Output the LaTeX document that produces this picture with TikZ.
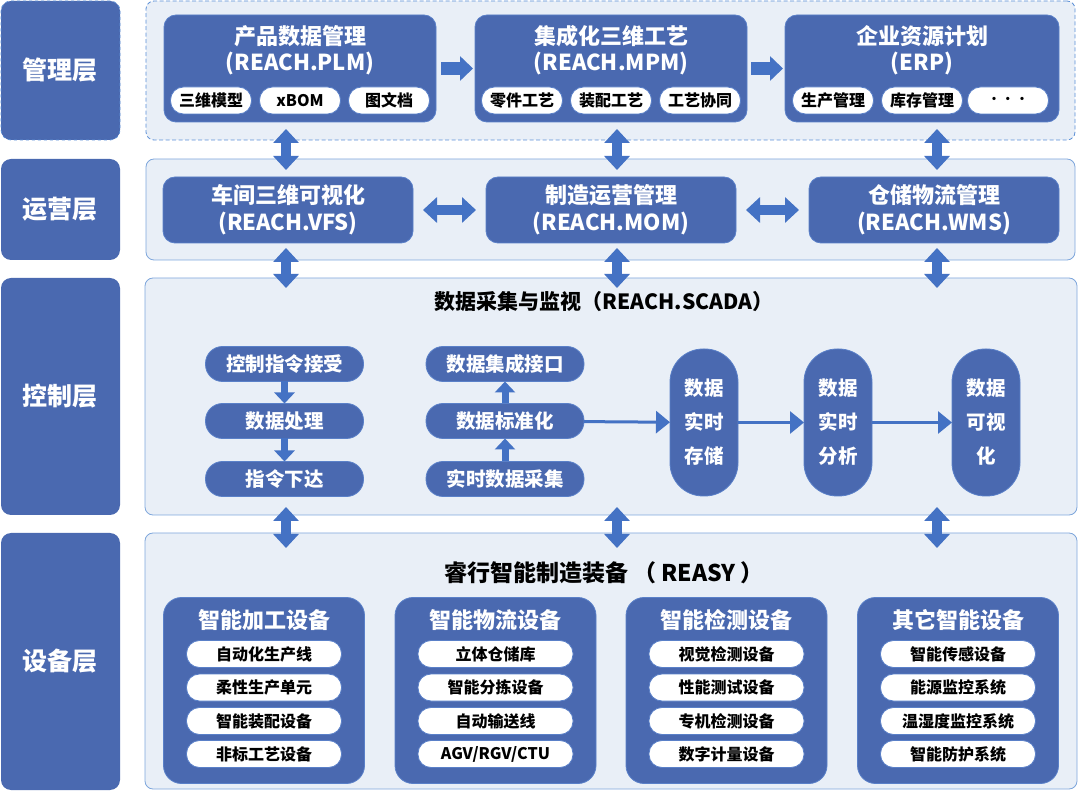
\documentclass[tikz,border=0pt]{standalone}
\usepackage{fontspec}
\setmainfont{Noto Sans CJK SC}
\usetikzlibrary{arrows.meta}

\definecolor{dkblue}{HTML}{4A69B0}
\definecolor{boxline}{HTML}{5A80C8}
\definecolor{pnlfill}{HTML}{E9EFF7}
\definecolor{pnlline}{HTML}{7EA6DC}
\definecolor{dashline}{HTML}{5B8FD6}
\definecolor{arrblue}{HTML}{4472C4}
\newcommand\fsz[2]{\fontsize{#1}{#2}\selectfont}

\begin{document}
\begin{tikzpicture}
  [x=1pt,y=-1pt,thick,
   every node/.style={inner sep=0pt,outer sep=0pt},
   layer/.style={rounded corners=10pt,fill=dkblue,text=white,minimum width=119pt,font=\bfseries\fsz{25}{25}},
   panel/.style={rounded corners=8pt,fill=pnlfill,draw=pnlline,line width=0.8pt},
   mainbox/.style={rounded corners=12pt,fill=dkblue,draw=boxline,line width=0.8pt,text=white,align=center,font=\bfseries\fsz{22}{27}},
   boxtitle/.style={text=white,align=center,font=\bfseries\fsz{22}{26}},
   pill/.style={rounded corners=13pt,fill=white,draw=boxline,line width=0.8pt,minimum width=81pt,minimum height=27pt,font=\bfseries\fsz{16}{16}},
   devpill/.style={pill,minimum width=155pt},
   ctrlpill/.style={rounded corners=17pt,fill=dkblue,draw=boxline,line width=0.8pt,text=white,minimum width=158pt,minimum height=35pt,font=\bfseries\fsz{19.5}{19.5}},
   tallpill/.style={rounded corners=33pt,fill=dkblue,draw=boxline,line width=0.8pt,text=white,align=center,minimum width=68pt,minimum height=147pt,font=\bfseries\fsz{19.5}{34}},
   groupbox/.style={rounded corners=18pt,fill=dkblue,draw=boxline,line width=0.8pt,minimum width=201pt,minimum height=186pt},
   grouptitle/.style={text=white,font=\bfseries\fsz{22}{22}},
   blockarr/.style={draw=arrblue,line width=13pt,-{Triangle[width=24pt,length=13pt]}},
   dblarr/.style={draw=arrblue,line width=10pt,{Triangle[width=25pt,length=14pt]}-{Triangle[width=25pt,length=14pt]}},
   smallarr/.style={draw=arrblue,line width=7pt,-{Triangle[width=20pt,length=11pt]}},
   thinarr/.style={draw=arrblue,line width=3pt,-{Triangle[width=22pt,length=14pt]}}]
  \useasboundingbox (0,0) rectangle (1080,791);

  % layer labels
  \node[layer,draw=dashline,dashed,minimum height=139pt] (lMgmt) at (60.5,70.5) {管理层};
  \node[layer,minimum height=101pt] (lOps) at (60.5,209.5) {运营层};
  \node[layer,minimum height=237pt] (lCtrl) at (60.5,396.5) {控制层};
  \node[layer,minimum height=257pt] (lDev) at (60.5,661.5) {设备层};

  % layer panels
  \node[panel,draw=dashline,dash pattern=on 4pt off 2.5pt,minimum width=929pt,minimum height=139pt] (pMgmt) at (610.5,70.5) {};
  \node[panel,minimum width=929pt,minimum height=101pt] (pOps) at (610.5,209.5) {};
  \node[panel,minimum width=932pt,minimum height=237pt] (pCtrl) at (611,396.5) {};
  \node[panel,minimum width=932pt,minimum height=256pt] (pDev) at (611,661) {};

  % management layer
  \node[mainbox,minimum width=272pt,minimum height=107pt] (plm) at (300,68.5) {};
  \node[boxtitle] (plmT) at (300,50) {产品数据管理\\(REACH.PLM)};
  \node[pill] (plm1) at (211,100.5) {三维模型};
  \node[pill] (plm2) at (300,100.5) {xBOM};
  \node[pill] (plm3) at (389,100.5) {图文档};

  \node[mainbox,minimum width=272pt,minimum height=107pt] (mpm) at (611,68.5) {};
  \node[boxtitle] (mpmT) at (611,50) {集成化三维工艺\\(REACH.MPM)};
  \node[pill] (mpm1) at (522,100.5) {零件工艺};
  \node[pill] (mpm2) at (611,100.5) {装配工艺};
  \node[pill] (mpm3) at (700,100.5) {工艺协同};

  \node[mainbox,minimum width=274pt,minimum height=107pt] (erp) at (922,68.5) {};
  \node[boxtitle] (erpT) at (922,50) {企业资源计划\\(ERP)};
  \node[pill] (erp1) at (833,100.5) {生产管理};
  \node[pill] (erp2) at (922,100.5) {库存管理};
  \node[pill,font=\bfseries\fsz{12}{12}] (erp3) at (1008,100.5) {•\,•\,•};

  \draw[blockarr,shorten <=5pt,shorten >=2pt] (plm) -- (mpm);
  \draw[blockarr,shorten <=4pt,shorten >=2pt] (mpm) -- (erp);

  % operation layer
  \node[mainbox,minimum width=250pt,minimum height=66pt] (vfs) at (288,210) {车间三维可视化\\(REACH.VFS)};
  \node[mainbox,minimum width=250pt,minimum height=66pt] (mom) at (611,210) {制造运营管理\\(REACH.MOM)};
  \node[mainbox,minimum width=250pt,minimum height=66pt] (wms) at (934,210) {仓储物流管理\\(REACH.WMS)};

  \draw[dblarr,shorten <=10pt,shorten >=10pt] (vfs) -- (mom);
  \draw[dblarr,shorten <=10pt,shorten >=10pt] (mom) -- (wms);

  % control layer
  \node[font=\bfseries\fsz{21}{21}] (scada) at (604,302) {数据采集与监视（REACH.SCADA）};
  \node[ctrlpill] (cmd1) at (284.5,364) {控制指令接受};
  \node[ctrlpill] (cmd2) at (284.5,421) {数据处理};
  \node[ctrlpill] (cmd3) at (284.5,479) {指令下达};
  \node[ctrlpill] (dat1) at (505,364) {数据集成接口};
  \node[ctrlpill] (dat2) at (505,421) {数据标准化};
  \node[ctrlpill] (dat3) at (505,479) {实时数据采集};
  \node[tallpill] (store) at (704,422.5) {数据\\实时\\存储};
  \node[tallpill] (anal) at (838,422.5) {数据\\实时\\分析};
  \node[tallpill] (visu) at (986,422.5) {数据\\可视\\化};

  \draw[smallarr] (cmd1) -- (cmd2);
  \draw[smallarr] (cmd2) -- (cmd3);
  \draw[smallarr] (dat3) -- (dat2);
  \draw[smallarr] (dat2) -- (dat1);
  \draw[thinarr] (dat2) -- (store);
  \draw[thinarr] (store) -- (anal);
  \draw[thinarr] (anal) -- (visu);

  % device layer
  \node[font=\bfseries\fsz{23}{23}] (reasy) at (604,573) {睿行智能制造装备 （ REASY ）};

  \node[groupbox] (g1) at (264,690.5) {};
  \node[grouptitle] (g1T) at (264,620) {智能加工设备};
  \node[devpill] (g11) at (264,654) {自动化生产线};
  \node[devpill] (g12) at (264,687.5) {柔性生产单元};
  \node[devpill] (g13) at (264,721) {智能装配设备};
  \node[devpill] (g14) at (264,754) {非标工艺设备};

  \node[groupbox] (g2) at (495.5,690.5) {};
  \node[grouptitle] (g2T) at (495.5,620) {智能物流设备};
  \node[devpill] (g21) at (495.5,654) {立体仓储库};
  \node[devpill] (g22) at (495.5,687.5) {智能分拣设备};
  \node[devpill] (g23) at (495.5,721) {自动输送线};
  \node[devpill] (g24) at (495.5,754) {AGV/RGV/CTU};

  \node[groupbox] (g3) at (726.5,690.5) {};
  \node[grouptitle] (g3T) at (726.5,620) {智能检测设备};
  \node[devpill] (g31) at (726.5,654) {视觉检测设备};
  \node[devpill] (g32) at (726.5,687.5) {性能测试设备};
  \node[devpill] (g33) at (726.5,721) {专机检测设备};
  \node[devpill] (g34) at (726.5,754) {数字计量设备};

  \node[groupbox] (g4) at (958,690.5) {};
  \node[grouptitle] (g4T) at (958,620) {其它智能设备};
  \node[devpill] (g41) at (958,654) {智能传感设备};
  \node[devpill] (g42) at (958,687.5) {能源监控系统};
  \node[devpill] (g43) at (958,721) {温湿度监控系统};
  \node[devpill] (g44) at (958,754) {智能防护系统};

  % arrows between layers
  \coordinate (ax1) at (286,0);
  \coordinate (ax2) at (617,0);
  \coordinate (ax3) at (937,0);
  \draw[dblarr,shorten <=-11pt,shorten >=-11pt] (pMgmt.south -| ax1) -- (pOps.north -| ax1);
  \draw[dblarr,shorten <=-11pt,shorten >=-11pt] (pMgmt.south -| ax2) -- (pOps.north -| ax2);
  \draw[dblarr,shorten <=-11pt,shorten >=-11pt] (pMgmt.south -| ax3) -- (pOps.north -| ax3);
  \draw[dblarr,shorten <=-12pt,shorten >=-10pt] (pOps.south -| ax1) -- (pCtrl.north -| ax1);
  \draw[dblarr,shorten <=-12pt,shorten >=-10pt] (pOps.south -| ax2) -- (pCtrl.north -| ax2);
  \draw[dblarr,shorten <=-12pt,shorten >=-10pt] (pOps.south -| ax3) -- (pCtrl.north -| ax3);
  \draw[dblarr,shorten <=-8pt,shorten >=-15pt] (pCtrl.south -| ax1) -- (pDev.north -| ax1);
  \draw[dblarr,shorten <=-8pt,shorten >=-15pt] (pCtrl.south -| ax2) -- (pDev.north -| ax2);
  \draw[dblarr,shorten <=-8pt,shorten >=-15pt] (pCtrl.south -| ax3) -- (pDev.north -| ax3);
\end{tikzpicture}
\end{document}
